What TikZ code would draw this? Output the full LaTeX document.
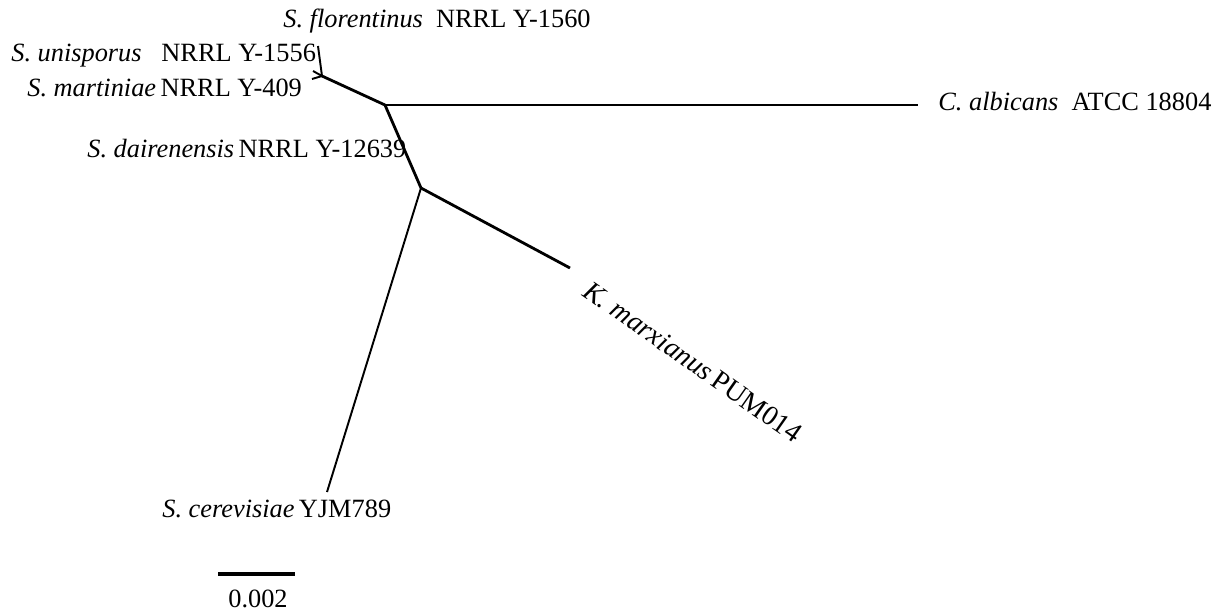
\documentclass[tikz,border=0pt]{standalone}
\usepackage{fontspec}
\setmainfont{Liberation Serif}
\begin{document}
\begin{tikzpicture}[x=0.02cm,y=-0.02cm,
  thick branch/.style={line width=1.6pt},
  thin branch/.style={line width=1.1pt},
  lab/.style={inner sep=0pt,font=\fontsize{15}{17}\selectfont}]
\useasboundingbox (0,0) rectangle (1230,613);
% internal nodes
\coordinate (A) at (385,105);
\coordinate (B) at (322,76);
\coordinate (C) at (421,188);
% tips
\coordinate (tflo) at (318,46);
\coordinate (tuni) at (313,71);
\coordinate (tmar) at (312,79);
\coordinate (talb) at (918,105);
\coordinate (tmarx) at (570,268);
\coordinate (tcer) at (327,492);
% branches
\draw[thick branch] (A) -- (B);
\draw[thin branch] (B) -- (tflo);
\draw[thin branch] (B) -- (tuni);
\draw[thin branch] (B) -- (tmar);
\draw[thick branch] (A) -- (talb);
\draw[thick branch] (A) -- (C);
\draw[thick branch] (C) -- (tmarx);
\draw[thin branch] (C) -- (tcer);
% labels
\node[lab,anchor=base west] (lflo) at (283,27) {\textit{S. florentinus}\ \ NRRL Y-1560};
\node[lab,anchor=base west] (luni) at (11,61) {\textit{S. unisporus}\ \ \ NRRL Y-1556};
\node[lab,anchor=base west] (lmar) at (27,96) {\textit{S. martiniae}\,NRRL Y-409};
\node[lab,anchor=base west] (ldai) at (87,157) {\textit{S. dairenensis}\,NRRL Y-12639};
\node[lab,anchor=base west] (lalb) at (938,110) {\textit{C. albicans}\ \ ATCC 18804};
\node[lab,anchor=base west] (lcer) at (162,517) {\textit{S. cerevisiae}\,YJM789};
\node[inner sep=0pt,font=\fontsize{16}{18}\selectfont,rotate=-35] (lmarx) at (693,362) {\textit{K. marxianus}\,PUM014};
% scale bar
\coordinate (s1) at (218,574);
\coordinate (s2) at (295,574);
\draw[line width=2.2pt] (s1) -- (s2);
\node[lab,anchor=base] (lscale) at (258,607) {0.002};
\end{tikzpicture}
\end{document}
